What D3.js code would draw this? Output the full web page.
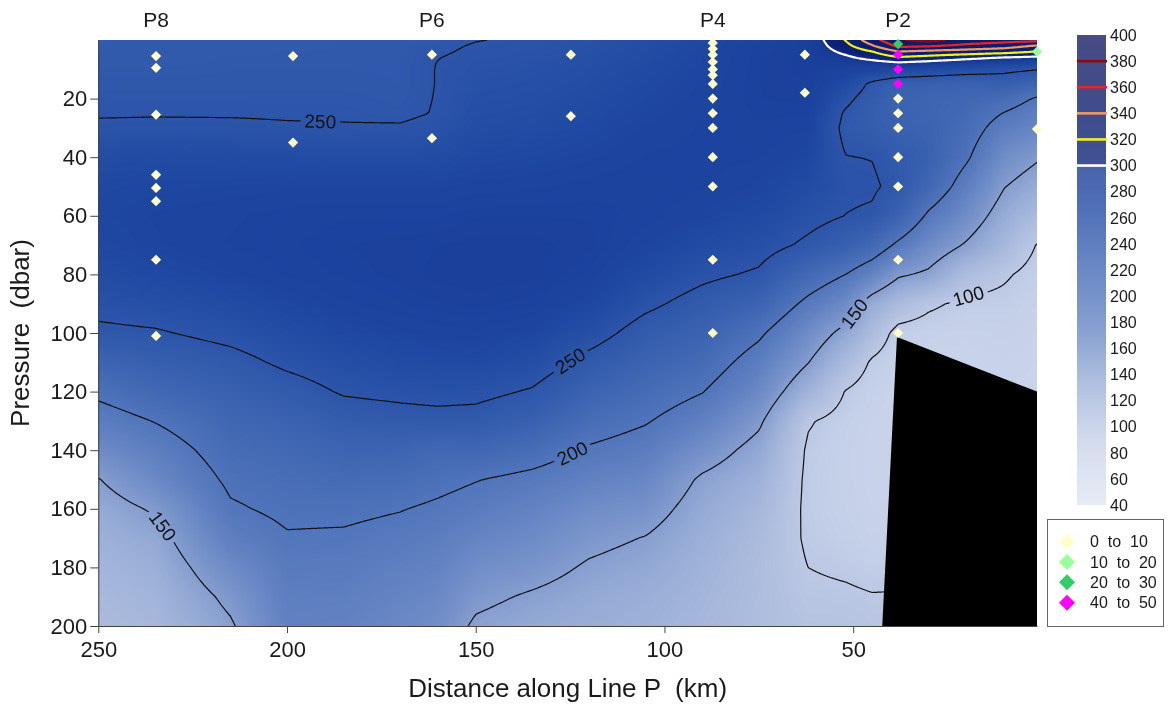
<!DOCTYPE html>
<html>
<head>
<meta charset="utf-8">
<script src="https://cdn.jsdelivr.net/npm/d3@7"></script>
<style>
  html, body { margin: 0; padding: 0; background: #fff; }
  #wrap { position: relative; width: 1168px; height: 707px; }
  #field { position: absolute; }
  #chart { position: absolute; left: 0; top: 0; display: block; font-family: "Liberation Sans", Arial, sans-serif; }
  .pre { white-space: pre; }
</style>
</head>
<body>
<div id="wrap">
  <canvas id="field"></canvas>
  <svg id="chart" width="1168" height="707"></svg>
</div>
<script>
// ---- Section grid: one profile per distance (km), sampled at the pressures below (dbar)
const distances = [250, 235, 215, 200, 185, 170, 160, 150, 135, 120, 105, 90, 75, 62, 52, 45, 38, 30, 20, 10, 1.3];
const pressures = [0, 2, 4, 6, 8, 10, 15, 20, 25, 30, 40, 50, 60, 70, 80, 90, 100, 110, 120, 130, 140, 150, 160, 170, 180, 190, 200];
const profiles = [
  [242, 242, 242, 243, 243, 244, 246, 247.5, 248.5, 253, 264, 270, 272, 270, 265, 256, 246, 225, 206, 187, 169, 149, 138, 130, 124, 120, 118],
  [242.5, 242.5, 243, 243, 243.5, 244, 246, 247.5, 249, 253, 266, 272, 275, 274, 269, 260, 248, 235, 220, 201, 185, 172, 153, 140, 132, 126, 122],
  [243, 243, 243, 244, 244, 245, 246, 247.5, 248.7, 253, 265, 273, 277, 278, 274, 266, 256, 243, 232, 222, 213, 205, 197, 185, 170, 156, 147],
  [243, 243, 244, 244, 244, 245, 246, 247.5, 248.5, 251.5, 265, 274, 279, 280, 278, 272, 264, 254, 241, 229, 219, 211, 205, 198, 191, 186, 182],
  [244, 244, 244, 244, 245, 245, 246, 247.5, 248.5, 251, 264, 274, 280, 282, 281, 277, 270, 261, 252, 239, 226, 215, 205, 197, 190, 185, 181],
  [244, 244, 244, 245, 245, 245, 245, 246, 247, 251.5, 264, 274, 280, 283, 283, 280, 274, 265, 255, 242, 226, 213, 201, 192, 184, 178, 173],
  [246, 247.5, 248.5, 249.7, 250.3, 250.5, 250.5, 250.7, 251, 255, 265, 274, 280, 284, 285, 282, 276, 267, 257, 243, 220, 207, 196, 187, 180, 173, 166],
  [249.5, 251, 252, 253, 254, 255, 257, 259, 261, 263, 269, 276, 282, 285, 286, 283, 277, 268, 256, 242, 222, 201, 190, 179, 167, 156, 146],
  [252, 253, 254, 255, 256, 257, 259, 261, 263, 265, 271, 277, 282, 285, 285, 281, 273, 262, 248, 232, 213, 193, 180, 170, 160, 147, 138],
  [256, 257, 258, 259, 260, 261, 263, 265, 267, 269, 274, 279, 282, 283, 280, 272, 260, 243, 228, 213, 197, 182, 168, 157, 147, 139, 134],
  [262, 263, 264, 265, 266, 267, 269, 271, 273, 275, 278, 280, 279, 275, 267, 255, 240, 228, 215, 202, 188, 175, 162, 149, 140, 133, 129],
  [270, 271, 272, 273, 273, 274, 275, 276, 277, 278, 279, 278, 274, 266, 255, 241, 229, 216, 201, 184, 165, 146, 138, 132, 128, 125, 123],
  [280, 281, 281, 282, 282, 282, 282, 282, 281, 280, 278, 274, 268, 259, 247, 228, 205, 187, 172, 155, 140, 130, 123, 118, 116, 115, 114],
  [285, 285, 285, 285, 285, 285, 284, 283, 281, 278, 272, 265, 257, 246, 219, 193, 169, 151, 128, 102, 97, 96, 96, 97, 100, 104, 107],
  [321, 314, 305, 296, 288, 280, 268, 256, 247, 244, 250.5, 254, 249.7, 234, 200, 170, 141, 118, 99, 92, 90, 90, 91, 93, 97, 103, 107],
  [352, 338, 319, 307, 291, 276, 245, 238, 236, 237, 249.5, 253, 247, 220, 180, 136, 116, 97, 90, 87, 86, 86, 87, 89, 94, 101, 104],
  [378, 365, 339, 318, 296, 272, 232, 228, 228, 231, 241, 244, 230, 194, 154, 118, 92, 88, 85, 85, 85, 86, 88, 92, 96, 101, 103],
  [386, 362, 335, 313, 292, 266, 232, 226, 226, 228, 232, 222, 195, 170, 145, 104, 90, 86, 84, 84, 84, 84, 84, 84, 84, 84, 84],
  [372, 355, 331, 306, 285, 262, 228, 222, 218, 214, 204, 186, 168, 147, 115, 95, 88, 85, 84, 84, 84, 84, 84, 84, 84, 84, 84],
  [368, 349, 327, 299, 278, 256, 235, 214, 199, 187, 167, 151, 136, 122, 103, 94, 90, 87, 85, 84, 84, 84, 84, 84, 84, 84, 84],
  [366, 338, 319, 296, 272, 251, 225, 197, 185, 176, 153, 136, 117, 99, 92, 89, 87, 85, 84, 84, 84, 84, 84, 84, 84, 84, 84]
];

// ---- Contour levels
const blackLevels = [100, 150, 200, 250];
const colourLevels = [300, 320, 340, 360, 380];

// ---- Contour label anchors (distance km, pressure dbar)
const labelLevels = [250, 250, 200, 150, 150, 100];
const labelDist = [191.3, 126.4, 124.5, 233, 50, 19.6];
const labelPress = [27.6, 106.8, 140.6, 166, 93.2, 86];

// ---- Seabed outline
const seabedDist = [38.4, 1.3, 1.3, 42.3];
const seabedPress = [101.4, 120, 200, 200];

// ---- Stations and bottle samples (bin index into legendBins)
const stationNames = ["P8", "P6", "P4", "P2"];
const stationDist = [234.7, 161.6, 87.2, 38.1];
const castDist = [234.7, 198.4, 161.6, 124.8, 87.2, 62.8, 38.1, 1.3];
const castPress = [
  [5.5, 9.5, 25.5, 46, 50.5, 55, 75, 101],
  [5.5, 35],
  [5, 33.5],
  [5, 26],
  [1, 3, 5, 7.5, 10, 12, 15, 20, 25, 30, 40, 50, 75, 100],
  [5, 18],
  [1.4, 5, 10, 15, 20, 25, 30, 40, 50, 75, 100],
  [4, 30.4]
];
const castBin = [
  [0, 0, 0, 0, 0, 0, 0, 0],
  [0, 0],
  [0, 0],
  [0, 0],
  [0, 0, 0, 0, 0, 0, 0, 0, 0, 0, 0, 0, 0, 0],
  [0, 0],
  [2, 3, 3, 3, 0, 0, 0, 0, 0, 0, 0],
  [1, 0]
];
const legendBins = ["0  to  10", "10  to  20", "20  to  30", "40  to  50"];

// ---- Axis and colour bar ticks
const xTicks = [250, 200, 150, 100, 50];
const yTicks = [20, 40, 60, 80, 100, 120, 140, 160, 180, 200];
const colorbarTicks = [400, 380, 360, 340, 320, 300, 280, 260, 240, 220, 200, 180, 160, 140, 120, 100, 80, 60, 40];

// ---- Colour ramp
const colorDomain = [40, 90, 100, 120, 140, 160, 180, 200, 225, 250, 270, 285, 300, 300.01, 340, 400];
const colorRange = ["#dfe5f2", "#c6d1e9", "#bcc8e4", "#a8b9dc", "#92a8d4", "#7893ca", "#6282c2", "#5175bb",
                    "#3e65b2", "#2c55aa", "#1f48a2", "#1a409c", "#163a96", "#0d2277", "#0b1d6e", "#181a62"];
const binColors = ["#ffffcc", "#99ff99", "#33cc66", "#ff00ff"];
const lineStyle = {
  100: ["#111", 1.2], 150: ["#111", 1.2], 200: ["#111", 1.2], 250: ["#111", 1.2],
  300: ["#ffffff", 2.2], 320: ["#f2f21c", 2.2], 340: ["#ee9966", 2.2], 360: ["#e3262b", 2.2], 380: ["#8b0a1a", 2.2]
};

// ================= drawing =================
const FONT = '"Liberation Sans", Arial, sans-serif';
const plot = { left: 98.3, right: 1037, top: 40, bottom: 626 };
const x = d3.scaleLinear().domain([250, 1.3]).range([plot.left, plot.right]);
const y = d3.scaleLinear().domain([0, 200]).range([plot.top, plot.bottom]);
const color = d3.scaleLinear().domain(colorDomain).range(colorRange).clamp(true);

const colX = distances.map(x);
const rowY = pressures.map(y);

function bracket(arr, v) {
  const i = d3.bisectRight(arr, v) - 1;
  if (i < 0) return [0, 0];
  if (i >= arr.length - 1) return [arr.length - 2, 1];
  return [i, (v - arr[i]) / (arr[i + 1] - arr[i])];
}
function valueAt(px, py) {
  const [i, tx] = bracket(colX, px);
  const [j, ty] = bracket(rowY, py);
  const a = profiles[i][j], b = profiles[i + 1][j];
  const c = profiles[i][j + 1], d = profiles[i + 1][j + 1];
  return (a * (1 - tx) + b * tx) * (1 - ty) + (c * (1 - tx) + d * tx) * ty;
}

// colour field: rendered with a margin, softened, then cropped to the plot
const cw = Math.round(plot.right - plot.left), ch = Math.round(plot.bottom - plot.top);
const margin = 14;
const work = document.createElement("canvas");
work.width = cw + 2 * margin; work.height = ch + 2 * margin;
const wctx = work.getContext("2d");
const img = wctx.createImageData(work.width, work.height);
const lutStep = 0.25;
const lut = d3.range(40, 400 + lutStep, lutStep).map(v => d3.rgb(color(v)));
const ox = Math.round(plot.left) - margin, oy = plot.top - margin;
for (let j = 0; j < work.height; j++) {
  for (let i = 0; i < work.width; i++) {
    const v = valueAt(ox + i + 0.5, oy + j + 0.5);
    const k = Math.max(0, Math.min(lut.length - 1, Math.round((v - 40) / lutStep)));
    const c = lut[k], o = (j * work.width + i) * 4;
    img.data[o] = c.r; img.data[o + 1] = c.g; img.data[o + 2] = c.b; img.data[o + 3] = 255;
  }
}
wctx.putImageData(img, 0, 0);
const canvas = document.getElementById("field");
canvas.width = cw; canvas.height = ch;
canvas.style.left = Math.round(plot.left) + "px";
canvas.style.top = plot.top + "px";
const ctx = canvas.getContext("2d");
ctx.filter = "blur(2.5px)";
ctx.drawImage(work, -margin, -margin);
ctx.filter = "none";

const svg = d3.select("#chart");
const defs = svg.append("defs");
defs.append("clipPath").attr("id", "plotClip")
  .append("rect").attr("x", plot.left).attr("y", plot.top)
  .attr("width", plot.right - plot.left).attr("height", plot.bottom - plot.top);

// contour grid (with a one-cell margin so ring borders fall outside the plot)
const sx = 2, sy = 2;
const nx = Math.ceil((plot.right - plot.left) / sx) + 3;
const ny = Math.ceil((plot.bottom - plot.top) / sy) + 3;
const grid = new Float64Array(nx * ny);
for (let j = 0; j < ny; j++)
  for (let i = 0; i < nx; i++)
    grid[j * nx + i] = valueAt(plot.left + (i - 1) * sx, plot.top + (j - 1) * sy);
const allLevels = blackLevels.concat(colourLevels);
const contours = d3.contours().size([nx, ny]).thresholds(allLevels)(grid);
const toPx = (cx, cy) => [plot.left + (cx - 1.5) * sx, plot.top + (cy - 1.5) * sy];
const contourPath = d3.geoPath(d3.geoTransform({
  point(cx, cy) { const p = toPx(cx, cy); this.stream.point(p[0], p[1]); }
}));

// contour label placement on the drawn lines
function placeLabel(level, tx, ty) {
  const c = contours.find(k => k.value === level);
  let best = null, bd = Infinity;
  c.coordinates.forEach(poly => poly.forEach(ring => {
    const pts = ring.map(q => toPx(q[0], q[1]));
    const n = pts.length;
    for (let k = 0; k < n; k++) {
      const [px, py] = pts[k];
      if (px < plot.left + 2 || px > plot.right - 2 || py < plot.top + 2 || py > plot.bottom - 2) continue;
      const dd = (px - tx) ** 2 + (py - ty) ** 2;
      if (dd < bd) {
        bd = dd;
        const a = pts[(k - 5 + n) % n], b = pts[(k + 5) % n];
        best = { x: px, y: py, ang: Math.atan2(b[1] - a[1], b[0] - a[0]) * 180 / Math.PI };
      }
    }
  }));
  let ang = best.ang;
  if (ang > 90) ang -= 180;
  if (ang < -90) ang += 180;
  best.ang = ang;
  return best;
}
const labels = labelLevels.map((lv, i) => Object.assign({ level: lv }, placeLabel(lv, x(labelDist[i]), y(labelPress[i]))));

// gaps in the black lines under the labels
const mask = defs.append("mask").attr("id", "labelGap")
  .attr("maskUnits", "userSpaceOnUse").attr("x", 0).attr("y", 0).attr("width", 1168).attr("height", 707);
mask.append("rect").attr("width", 1168).attr("height", 707).attr("fill", "#fff");

const plotG = svg.append("g").attr("clip-path", "url(#plotClip)");
const blackG = plotG.append("g").attr("mask", "url(#labelGap)");
blackG.selectAll("path").data(contours.filter(c => blackLevels.includes(c.value))).join("path")
  .attr("d", contourPath).attr("fill", "none")
  .attr("stroke", d => lineStyle[d.value][0]).attr("stroke-width", d => lineStyle[d.value][1])
  .attr("stroke-linejoin", "round");
plotG.append("g").selectAll("path").data(contours.filter(c => colourLevels.includes(c.value))).join("path")
  .attr("d", contourPath).attr("fill", "none")
  .attr("stroke", d => lineStyle[d.value][0]).attr("stroke-width", d => lineStyle[d.value][1])
  .attr("stroke-linejoin", "round");

// seabed
plotG.append("path")
  .attr("d", d3.line()(seabedDist.map((d, i) => [x(d), y(seabedPress[i])])) + "Z")
  .attr("fill", "#000");

// contour labels
const labelG = svg.append("g").attr("font-family", FONT).attr("font-size", 19).attr("fill", "#111");
labels.forEach(l => {
  const t = labelG.append("text")
    .attr("transform", `translate(${l.x},${l.y}) rotate(${l.ang})`)
    .attr("text-anchor", "middle").attr("dy", "0.35em").text(l.level);
  const w = t.node().getComputedTextLength() + 8;
  mask.append("rect").attr("x", -w / 2).attr("y", -9).attr("width", w).attr("height", 18)
    .attr("transform", `translate(${l.x},${l.y}) rotate(${l.ang})`).attr("fill", "#000");
});

// bottle samples
const diamond = {
  draw(c, size) { const r = Math.sqrt(size / 2); c.moveTo(0, -r); c.lineTo(r, 0); c.lineTo(0, r); c.lineTo(-r, 0); c.closePath(); }
};
const samples = [];
castDist.forEach((d, i) => castPress[i].forEach((p, k) => samples.push({ d, p, bin: castBin[i][k] })));
svg.append("g").selectAll("path").data(samples).join("path")
  .attr("d", d3.symbol(diamond, 52))
  .attr("transform", s => `translate(${x(s.d)},${y(s.p)})`)
  .attr("fill", s => binColors[s.bin]);

// axes
const axisColor = "#444";
const gx = svg.append("g").attr("transform", `translate(0,${plot.bottom})`)
  .call(d3.axisBottom(x).tickValues(xTicks).tickSize(7).tickSizeOuter(0).tickPadding(8).tickFormat(d3.format("d")));
const gy = svg.append("g").attr("transform", `translate(${plot.left},0)`)
  .call(d3.axisLeft(y).tickValues(yTicks).tickSize(8).tickSizeOuter(0).tickPadding(3).tickFormat(d3.format("d")));
[gx, gy].forEach(g => {
  g.attr("font-family", FONT).attr("font-size", 22);
  g.selectAll("path, line").attr("stroke", axisColor).attr("stroke-width", 1);
  g.selectAll("text").attr("fill", "#1a1a1a");
});

svg.append("text").attr("class", "pre")
  .attr("x", (plot.left + plot.right) / 2).attr("y", 697).attr("text-anchor", "middle")
  .attr("font-family", FONT).attr("font-size", 26).attr("fill", "#1a1a1a")
  .text("Distance along Line P  (km)");
svg.append("text").attr("class", "pre")
  .attr("transform", `translate(29,${(plot.top + plot.bottom) / 2}) rotate(-90)`).attr("text-anchor", "middle")
  .attr("font-family", FONT).attr("font-size", 26).attr("fill", "#1a1a1a")
  .text("Pressure  (dbar)");

// station names
svg.append("g").attr("font-family", FONT).attr("font-size", 21).attr("fill", "#1a1a1a")
  .selectAll("text").data(stationNames).join("text")
  .attr("x", (n, i) => x(stationDist[i])).attr("y", 27).attr("text-anchor", "middle").text(n => n);

// colour bar
const cb = { x: 1077, w: 29 };
const cbY = d3.scaleLinear().domain([40, 400]).range([505, 35]);
const grad = defs.append("linearGradient").attr("id", "cbGrad")
  .attr("x1", 0).attr("y1", 1).attr("x2", 0).attr("y2", 0);
colorDomain.forEach((v, i) => grad.append("stop").attr("offset", (v - 40) / 360).attr("stop-color", colorRange[i]));
const cbG = svg.append("g");
cbG.append("rect").attr("x", cb.x).attr("y", cbY(400)).attr("width", cb.w).attr("height", cbY(40) - cbY(400))
  .attr("fill", "url(#cbGrad)").attr("opacity", 0.79);
cbG.selectAll("line").data(colourLevels).join("line")
  .attr("x1", cb.x).attr("x2", cb.x + cb.w + 1).attr("y1", d => cbY(d)).attr("y2", d => cbY(d))
  .attr("stroke", d => lineStyle[d][0]).attr("stroke-width", 2.6);
cbG.append("g").attr("font-family", FONT).attr("font-size", 16).attr("fill", "#1a1a1a")
  .selectAll("text").data(colorbarTicks).join("text")
  .attr("x", cb.x + cb.w + 4).attr("y", d => cbY(d)).attr("dy", "0.36em").text(d => d);

// legend
const lg = svg.append("g");
lg.append("rect").attr("x", 1047.5).attr("y", 519.5).attr("width", 116).attr("height", 107)
  .attr("fill", "#fff").attr("stroke", "#666").attr("stroke-width", 1);
const legendY = [541.7, 561.9, 582.3, 602.7];
legendBins.forEach((b, i) => {
  lg.append("path").attr("d", d3.symbol(diamond, 128)).attr("transform", `translate(1067,${legendY[i]})`).attr("fill", binColors[i]);
  lg.append("text").attr("class", "pre").attr("x", 1090).attr("y", legendY[i]).attr("dy", "0.36em")
    .attr("font-family", FONT).attr("font-size", 16).attr("fill", "#1a1a1a").text(b);
});
</script>
</body>
</html>
